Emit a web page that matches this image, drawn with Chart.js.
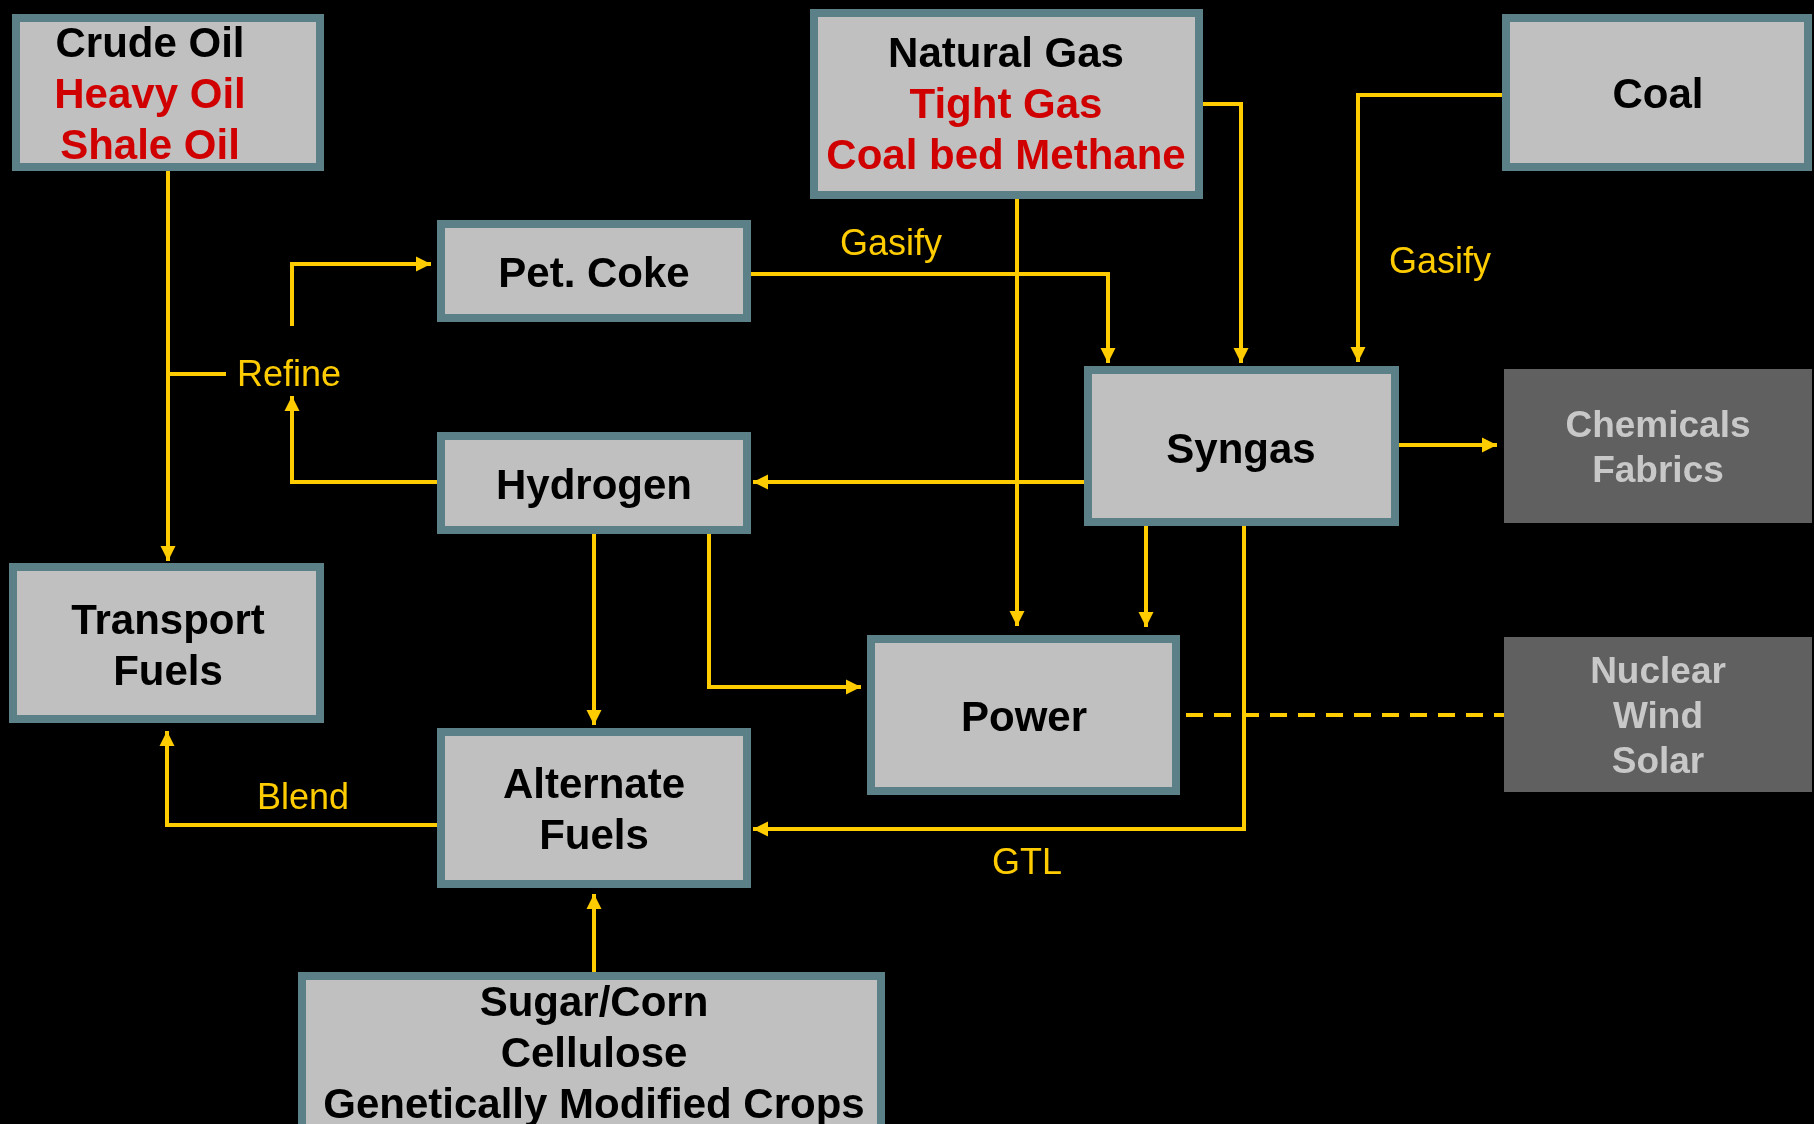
<!DOCTYPE html>
<html>
<head>
<meta charset="utf-8">
<script src="https://cdn.jsdelivr.net/npm/chart.js@4.4.1/dist/chart.umd.min.js"></script>
<style>
  html, body { margin: 0; padding: 0; background: #000; }
  #wrap { width: 1814px; height: 1124px; position: relative; }
</style>
</head>
<body>
<div id="wrap"><canvas id="myChart"></canvas></div>
<script>
// diagram units = pixels of the original slide, y grows downwards
const nodeLines = [
  ['Crude Oil', 'Heavy Oil', 'Shale Oil'],
  ['Natural Gas', 'Tight Gas', 'Coal bed Methane'],
  ['Coal'],
  ['Pet. Coke'],
  ['Hydrogen'],
  ['Syngas'],
  ['Chemicals', 'Fabrics'],
  ['Transport', 'Fuels'],
  ['Power'],
  ['Nuclear', 'Wind', 'Solar'],
  ['Alternate', 'Fuels'],
  ['Sugar/Corn', 'Cellulose', 'Genetically Modified Crops']
];
const redLines = ['Heavy Oil', 'Shale Oil', 'Tight Gas', 'Coal bed Methane'];
const otherNodes = ['Chemicals', 'Nuclear']; // grey, outside the fuel chain

// [x0, y0, x1, y1]
const nodeBoxes = [
  [12, 14, 324, 171],
  [810, 9, 1203, 199],
  [1502, 14, 1812, 171],
  [437, 220, 751, 322],
  [437, 432, 751, 534],
  [1084, 366, 1399, 526],
  [1504, 369, 1812, 523],
  [9, 563, 324, 723],
  [867, 635, 1180, 795],
  [1504, 637, 1812, 792],
  [437, 728, 751, 888],
  [298, 972, 885, 1140]
];
// centre of each node's text block
const nodeTextAt = [
  [150, 96], [1006, 106], [1658, 96], [594, 275], [594, 487], [1241, 451],
  [1658, 449], [168, 648], [1024, 719], [1658, 718], [594, 812], [594, 1055]
];

// flows: polylines, arrow at the last point
const flows = [
  [[168, 171], [168, 561]],
  [[168, 374], [226, 374]],
  [[292, 326], [292, 264], [431, 264]],
  [[437, 482], [292, 482], [292, 396]],
  [[751, 274], [1108, 274], [1108, 363]],
  [[1203, 104], [1241, 104], [1241, 363]],
  [[1502, 95], [1358, 95], [1358, 362]],
  [[1017, 199], [1017, 626]],
  [[1146, 526], [1146, 627]],
  [[1399, 445], [1497, 445]],
  [[1084, 482], [753, 482]],
  [[1244, 526], [1244, 829], [753, 829]],
  [[594, 534], [594, 725]],
  [[709, 534], [709, 687], [861, 687]],
  [[437, 825], [167, 825], [167, 731]],
  [[594, 972], [594, 894]],
  [[1186, 715], [1504, 715]]
];
const flowArrow = [true, false, true, true, true, true, true, true, true, true, true, true, true, true, true, true, false];
const flowDashed = [false, false, false, false, false, false, false, false, false, false, false, false, false, false, false, false, true];

const flowLabels = ['Refine', 'Gasify', 'Gasify', 'GTL', 'Blend'];
const flowLabelAt = [[237, 376], [891, 245], [1440, 263], [1027, 864], [303, 799]];
const flowLabelAlign = ['left', 'center', 'center', 'center', 'center'];

const YELLOW = '#FFCC00';
const BORDER = '#5B8087';
const FILL = '#C0C0C0';
const FONT = '"Liberation Sans", Arial, Helvetica, sans-serif';

const diagramPlugin = {
  id: 'diagram',
  afterDatasetsDraw(chart) {
    const ctx = chart.ctx;
    const xs = chart.scales.x, ys = chart.scales.y;
    const px = v => xs.getPixelForValue(v);
    const py = v => ys.getPixelForValue(v);
    ctx.save();

    // arrow heads
    ctx.fillStyle = YELLOW;
    flows.forEach((pts, i) => {
      if (!flowArrow[i]) return;
      const a = pts[pts.length - 2], b = pts[pts.length - 1];
      const x1 = px(a[0]), y1 = py(a[1]), x2 = px(b[0]), y2 = py(b[1]);
      const ang = Math.atan2(y2 - y1, x2 - x1);
      const len = 15, half = 7.5;
      ctx.beginPath();
      ctx.moveTo(x2, y2);
      ctx.lineTo(x2 - len * Math.cos(ang) + half * Math.sin(ang), y2 - len * Math.sin(ang) - half * Math.cos(ang));
      ctx.lineTo(x2 - len * Math.cos(ang) - half * Math.sin(ang), y2 - len * Math.sin(ang) + half * Math.cos(ang));
      ctx.closePath();
      ctx.fill();
    });

    // boxes
    nodeBoxes.forEach((b, i) => {
      const x0 = px(b[0]), y0 = py(b[1]), x1 = px(b[2]), y1 = py(b[3]);
      const lines = nodeLines[i];
      const other = otherNodes.includes(lines[0]);
      if (other) {
        ctx.fillStyle = '#606060';
        ctx.fillRect(x0, y0, x1 - x0, y1 - y0);
      } else {
        const bw = 8;
        ctx.fillStyle = BORDER;
        ctx.fillRect(x0, y0, x1 - x0, y1 - y0);
        ctx.fillStyle = FILL;
        ctx.fillRect(x0 + bw, y0 + bw, x1 - x0 - 2 * bw, y1 - y0 - 2 * bw);
      }
      const lh = other ? 45 : 51;
      ctx.font = (other ? 'bold 37px ' : 'bold 42px ') + FONT;
      ctx.textAlign = 'center';
      ctx.textBaseline = 'middle';
      const cx = px(nodeTextAt[i][0]);
      const cy = py(nodeTextAt[i][1]);
      lines.forEach((t, k) => {
        ctx.fillStyle = other ? '#C8C8C8' : (redLines.includes(t) ? '#D00000' : '#000000');
        ctx.fillText(t, cx, cy + (k - (lines.length - 1) / 2) * lh);
      });
    });

    // flow labels
    ctx.font = '36px ' + FONT;
    ctx.fillStyle = YELLOW;
    ctx.textBaseline = 'middle';
    flowLabels.forEach((t, i) => {
      ctx.textAlign = flowLabelAlign[i];
      ctx.fillText(t, px(flowLabelAt[i][0]), py(flowLabelAt[i][1]));
    });
    ctx.restore();
  }
};

const datasets = flows.map((pts, i) => ({
  data: pts.map(p => ({ x: p[0], y: p[1] })),
  showLine: true,
  borderColor: YELLOW,
  borderWidth: 4,
  borderDash: flowDashed[i] ? [17, 11] : [],
  borderJoinStyle: 'miter',
  borderCapStyle: 'butt',
  pointRadius: 0,
  tension: 0,
  clip: false
}));

const chart = new Chart(document.getElementById('myChart').getContext('2d'), {
  type: 'scatter',
  data: { datasets },
  options: {
    responsive: true,
    maintainAspectRatio: false,
    animation: false,
    events: [],
    layout: { padding: 0 },
    plugins: { legend: { display: false }, tooltip: { enabled: false } },
    scales: {
      x: { type: 'linear', min: 0, max: 1814, display: false },
      y: { type: 'linear', min: 0, max: 1124, reverse: true, display: false }
    }
  },
  plugins: [diagramPlugin]
});
</script>
</body>
</html>
